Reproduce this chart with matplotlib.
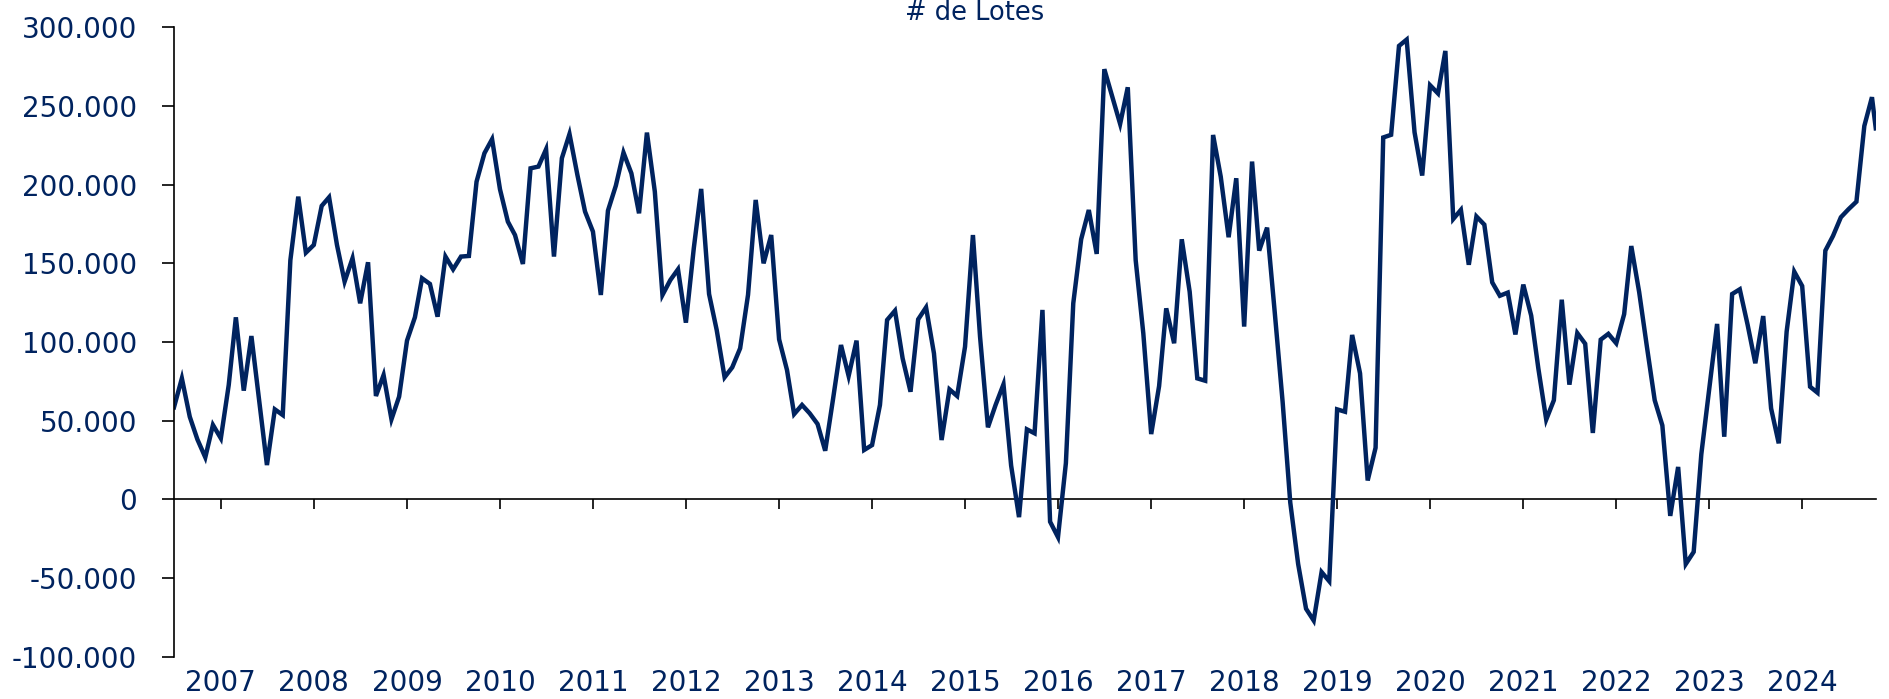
import matplotlib
matplotlib.use("Agg")
import matplotlib.pyplot as plt
import pandas as pd
from matplotlib.ticker import FuncFormatter

navy = "#00235F"

# monthly values (thousands of lots), Jul 2006 -> Oct 2024, last point mid-month
lotes_k = [
    58.5, 76.9, 52.5, 38.1, 26.7, 47.3, 38.8, 72.7, 115.7, 69.1, 103.8, 62.0,
    21.8, 57.2, 53.6, 152.0, 192.4, 156.8, 161.7, 186.5, 192.0, 161.7, 138.4, 153.2,
    124.6, 150.7, 65.7, 79.0, 50.9, 65.3, 100.9, 115.7, 140.5, 136.9, 116.1, 154.3,
    146.2, 154.3, 154.7, 201.9, 220.0, 228.9, 197.1, 176.5, 168.0, 149.6, 210.4, 211.5,
    222.5, 154.3, 216.8, 232.2, 206.2, 182.9, 170.2, 129.9, 183.5, 199.4, 220.4, 207.2,
    181.8, 233.1, 195.6, 129.9, 139.4, 146.2, 112.3, 159.6, 197.3, 130.5, 107.6, 77.6,
    83.9, 96.0, 130.0, 190.3, 150.0, 168.0, 101.7, 82.2, 54.2, 60.0, 54.7, 47.9,
    30.9, 64.0, 98.1, 78.4, 100.9, 31.4, 34.5, 60.0, 114.0, 119.9, 89.6, 68.4,
    114.4, 122.0, 92.8, 37.7, 69.9, 65.7, 97.0, 168.0, 103.4, 45.8, 60.0, 73.1,
    21.5, -11.3, 44.5, 42.0, 120.4, -14.2, -24.0, 23.0, 124.6, 165.3, 183.9, 156.0,
    273.4, 256.0, 238.6, 261.9, 152.1, 105.5, 41.5, 72.0, 121.4, 99.2, 165.3, 132.0,
    76.9, 75.4, 231.6, 205.1, 166.6, 204.1, 109.8, 214.7, 158.1, 172.7, 119.0, 62.0,
    -2.0, -41.1, -69.5, -77.0, -46.2, -52.0, 57.2, 55.7, 104.5, 80.1, 12.0, 32.8,
    230.0, 231.7, 288.2, 292.2, 233.3, 205.8, 263.2, 258.0, 285.0, 178.2, 184.0, 149.1,
    179.8, 174.6, 137.9, 129.4, 131.4, 104.8, 136.5, 116.8, 83.3, 50.7, 63.0, 126.9,
    72.9, 105.7, 98.9, 42.2, 101.5, 105.2, 99.2, 117.7, 161.0, 131.7, 97.4, 63.0,
    47.0, -10.5, 20.6, -41.1, -33.4, 28.7, 70.0, 111.5, 39.8, 130.5, 133.5, 110.8,
    86.5, 116.5, 57.8, 35.6, 106.6, 144.7, 135.6, 71.6, 67.8, 158.1, 167.4, 179.3,
    184.4, 189.2, 237.3, 255.6, 235.8,
]
months = pd.date_range("2006-07-01", periods=220, freq="MS")
dates = months.append(pd.DatetimeIndex(["2024-10-16"]))
lotes = [v * 1000 for v in lotes_k]

years = list(range(2007, 2025))
year_ticks = [pd.Timestamp(f"{y}-01-01") for y in years]
y_ticks = list(range(-100000, 300001, 50000))

fig = plt.figure(figsize=(18.89, 6.99), dpi=100)
ax = fig.add_axes([0.0921, 0.0605, 0.9009, 0.9004])

ax.plot(dates, lotes, color=navy, linewidth=3.2, solid_joinstyle="miter")

ax.set_xlim(dates[0], dates[-1])
ax.set_ylim(-100000, 300000)

# y axis
ax.set_yticks(y_ticks)
ax.yaxis.set_major_formatter(FuncFormatter(lambda v, p: f"{int(v):,}".replace(",", ".")))
ax.tick_params(axis="y", direction="out", length=8.5, width=1.2, color="black",
               labelsize=20, labelcolor=navy, pad=18)

# year labels at the bottom, no tick marks there
ax.set_xticks(year_ticks)
ax.set_xticklabels([str(y) for y in years])
ax.tick_params(axis="x", length=0, labelsize=20, labelcolor=navy, pad=9)

for s in ["top", "right", "bottom"]:
    ax.spines[s].set_visible(False)
ax.spines["left"].set_linewidth(1.2)

# zero line with the year tick marks
zero = ax.secondary_xaxis(0.25)
zero.set_xticks(year_ticks)
zero.set_xticklabels([])
zero.tick_params(direction="out", length=7, width=1.2, color="black")
zero.spines["bottom"].set_linewidth(1.2)

fig.text(0.5159, 0.972, "# de Lotes", ha="center", va="baseline", fontsize=18.5, color=navy)

fig.savefig("out.png", dpi=100)
